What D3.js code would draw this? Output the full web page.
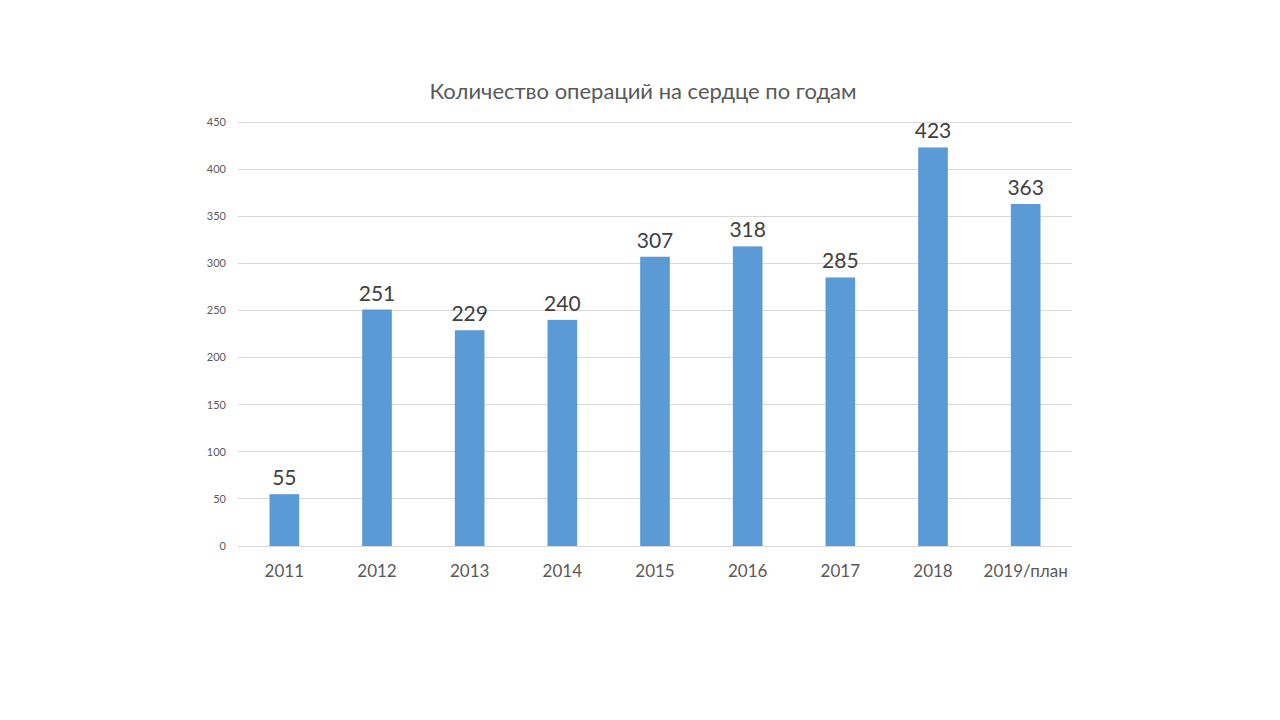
<!DOCTYPE html>
<html><head><meta charset="utf-8">
<script src="https://cdn.jsdelivr.net/npm/d3@7/dist/d3.min.js"></script>
<style>body{margin:0;background:#fff;} svg{display:block;font-family:Lato,"Open Sans",sans-serif;}</style>
</head><body>
<svg id="c" width="1280" height="720"></svg>
<script>
const categories = ["2011","2012","2013","2014","2015","2016","2017","2018","2019/план"];
const values = [55,251,229,240,307,318,285,423,363];
const yTicks = [0,50,100,150,200,250,300,350,400,450];
const title = "Количество операций на сердце по годам";

const svg = d3.select("#c");
const L = 238, R = 1072, T = 122, B = 546;
const x = d3.scaleBand().domain(categories).range([L, R]).paddingInner(0.68).paddingOuter(0.34);
const y = d3.scaleLinear().domain([0, 450]).range([B, T]);

svg.append("g").selectAll("line").data(yTicks).join("line")
  .attr("x1", L).attr("x2", R).attr("y1", d => y(d)).attr("y2", d => y(d))
  .attr("stroke", "#d9d9d9").attr("stroke-width", 1).attr("shape-rendering","crispEdges");

svg.append("g").selectAll("text").data(yTicks).join("text")
  .attr("x", 226).attr("y", d => y(d)).attr("dy", "0.35em").attr("text-anchor", "end")
  .attr("font-size", 11).attr("fill", "#595959").text(d => d);

svg.append("g").selectAll("rect").data(values).join("rect")
  .attr("x", (d, i) => x(categories[i])).attr("width", x.bandwidth())
  .attr("y", d => y(d)).attr("height", d => B - y(d)).attr("fill", "#5b9bd5");

svg.append("g").selectAll("text").data(values).join("text")
  .attr("x", (d, i) => x(categories[i]) + x.bandwidth() / 2).attr("y", d => y(d) - 9)
  .attr("text-anchor", "middle").attr("font-size", 21).attr("fill", "#404040").text(d => d);

svg.append("g").selectAll("text").data(categories).join("text")
  .attr("x", d => x(d) + x.bandwidth() / 2).attr("y", 577)
  .attr("text-anchor", "middle").attr("font-size", 17).attr("fill", "#595959").text(d => d);

svg.append("text").attr("x", 643).attr("y", 99).attr("text-anchor", "middle")
  .attr("font-size", 22).attr("fill", "#595959").text(title);
</script>
</body></html>
